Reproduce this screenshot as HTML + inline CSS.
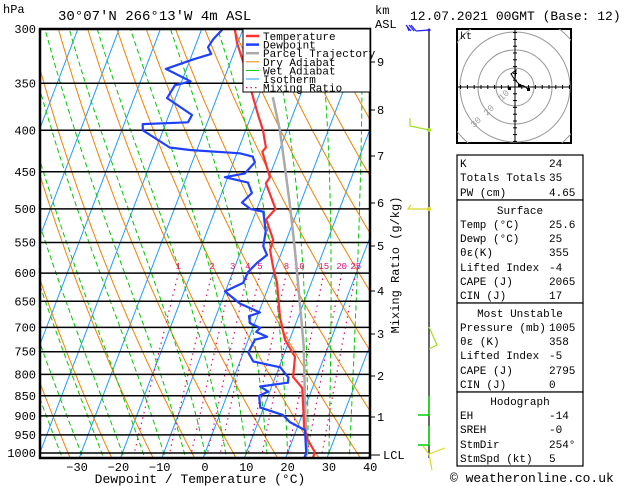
<!DOCTYPE html>
<html><head><meta charset="utf-8"><style>
body{margin:0;background:#fff;}
svg{display:block;font-family:"Liberation Mono","DejaVu Sans Mono",monospace;}
</style></head><body>
<svg id="chart" width="629" height="486" viewBox="0 0 629 486" xmlns="http://www.w3.org/2000/svg">
<defs><clipPath id="plotclip"><rect x="40" y="29" width="330" height="429"/></clipPath>
<clipPath id="hodoclip"><rect x="457" y="29" width="114" height="114"/></clipPath></defs>
<g id="bg" clip-path="url(#plotclip)"></g>
<g id="series" clip-path="url(#plotclip)"></g>
<g id="axes"></g>
<text x="3" y="13" font-size="12">hPa</text>
<text x="58" y="20" font-size="14">30°07'N  266°13'W  4m ASL</text>
<text x="375" y="14" font-size="12">km</text>
<text x="375" y="28" font-size="12">ASL</text>
<text x="410" y="20" font-size="13">12.07.2021 00GMT (Base: 12)</text>
<text x="200" y="483" font-size="13" text-anchor="middle">Dewpoint / Temperature (°C)</text>
<text transform="translate(399,265) rotate(-90)" font-size="12" text-anchor="middle">Mixing Ratio (g/kg)</text>
<g id="legend"></g>
<g id="wind"></g>
<g id="hodo"></g>
<g id="table"></g>
<text x="450" y="482" font-size="13">© weatheronline.co.uk</text>
</svg>
<script>
// ---- data ----
const pressureTicks=[300,350,400,450,500,550,600,650,700,750,800,850,900,950,1000];
const tempTicks=[-30,-20,-10,0,10,20,30,40];
const kmTicks=[9,8,7,6,5,4,3,2,1];
const kmTickY=[62,110,156,203,246,291,334,376,417];
const mixRatios=[1,2,3,4,5,8,10,15,20,25];
const tempP=[300,312,329,364,383,400,420,425,457,465,500,515,546,562,590,617,680,725,761,806,831,877,929,964,997,1013];
const tempT=[-32,-30.2,-27,-21.3,-18.4,-15.8,-13.5,-14,-9.8,-10.2,-5.5,-6.8,-3.2,-3,-0.7,1.7,5.6,8.9,12.9,14.3,17.5,19.5,21.6,23.7,26.5,26.6];
const dewP=[300,309,316,322,327,336,348,352,365,383,391,393,400,420,423,427,431,438,452,457,464,478,491,500,504,533,556,570,583,598,617,632,654,671,678,692,701,709,719,725,752,771,784,807,819,828,840,850,879,898,916,937,1000,1013];
const dewT=[-34.9,-36.3,-36.8,-35.4,-39.2,-45,-37.9,-41.3,-42,-34.4,-34.7,-45.5,-44.9,-36.8,-31.7,-19.3,-15.9,-14.8,-16.2,-20.7,-14.6,-12.7,-14.2,-11.6,-8.2,-5.8,-5,-3.3,-5,-6.3,-6.5,-10.1,-5.4,0.3,-2,-1.1,1.8,1.2,4.3,1.6,1.2,3.2,10.3,13.2,13.6,7.2,9.6,7.8,9.2,15.4,17.7,22.1,24.5,24.5];
const parcelP=[1013,1000,890,738,617,562,500,440,400,364];
const parcelT=[24.6,24.7,20.5,14,6.8,3,-1.9,-7.5,-11.7,-16.5];
// ---- axes ----
const NS="http://www.w3.org/2000/svg";
const Y0=29,H=424,LR=Math.log(1000/300);
function yP(p){return Y0+H*Math.log(p/300)/LR;}
function xTP(t,p){return 205+4.13*t+0.382*(453-yP(p));}
function mk(tag,attrs,parent){const e=document.createElementNS(NS,tag);for(const k in attrs)e.setAttribute(k,attrs[k]);parent.appendChild(e);return e;}
const bg=document.getElementById('bg'),ser=document.getElementById('series'),ax=document.getElementById('axes');
function polyPts(ps,fn){return ps.map(p=>{const t=fn(p);return xTP(t,p).toFixed(1)+','+yP(p).toFixed(1);}).join(' ');}
const pgrid=[];for(let p=250;p<=1050;p+=10)pgrid.push(p);
// isotherms
for(let t=-110;t<=40;t+=10){const l=mk('line',{x1:xTP(t,1050),y1:yP(1050),x2:xTP(t,250),y2:yP(250),stroke:'#1e9bff','stroke-width':1},bg);

}
// dry adiabats
for(let th=240;th<=480;th+=10){const l=mk('polyline',{points:polyPts(pgrid,p=>th*Math.pow(p/1000,0.286)-273.15),fill:'none',stroke:'#f08000','stroke-width':1},bg);

}
// wet adiabats (numerical)
function es(t){return 6.112*Math.exp(17.67*t/(t+243.5));}
function moistLapse(t,p){const T=t+273.15,e=es(t),r=0.622*e/(p-e),L=2.5e6;
return (0.286*T+ L*r/1004)/ (p*(1+ L*L*r*0.622/(1004*287*T*T)));}
for(let tw=-40;tw<=40;tw+=5){let t=tw,p=1050,pts=[];
// integrate from 1000 upward/downward
t=tw;let pp=1000;const up=[],dn=[];
let tt=t;for(let q=1000;q>=250;q-=5){up.push([q,tt]);tt-=moistLapse(tt,q)*5;}
tt=t;for(let q=1000;q<=1050;q+=5){dn.push([q,tt]);tt+=moistLapse(tt,q)*5;}
const all=dn.reverse().concat(up.slice(1));
const l=mk('polyline',{points:all.map(a=>xTP(a[1],a[0]).toFixed(1)+','+yP(a[0]).toFixed(1)).join(' '),fill:'none',stroke:'#00c800','stroke-width':1,'stroke-dasharray':'5,3'},bg);

}
// mixing ratio lines
function tdFromW(w,p){const e=w*p/(622+w),a=Math.log(e/6.112);return 243.5*a/(17.67-a);}
const mp=[];for(let p=600;p<=1000;p+=10)mp.push(p);
mixRatios.forEach(w=>{const l=mk('polyline',{points:polyPts(mp,p=>tdFromW(w,p)),fill:'none',stroke:'#e0107a','stroke-width':1.2,'stroke-dasharray':'1.5,4'},bg);


const tx=mk('text',{x:xTP(tdFromW(w,600),600),y:yP(600)-4,'font-size':9,fill:'#e0107a','text-anchor':'middle'},bg);tx.textContent=w;

});
// pressure lines and labels
pressureTicks.forEach(p=>{const y=yP(p);const l=mk('line',{x1:40,y1:y,x2:370,y2:y,stroke:'#000','stroke-width':1.5},bg);


const t=mk('text',{x:36,y:y+4,'font-size':12,'text-anchor':'end'},ax);t.textContent=p;

});
tempTicks.forEach(v=>{const x=xTP(v,1000);const t=mk('text',{x:x-(v<0?4:0),y:471,'font-size':12,'text-anchor':'middle'},ax);t.textContent=(v<0?'−':'')+Math.abs(v);

});
kmTicks.forEach((k,i)=>{mk('line',{x1:370,y1:kmTickY[i],x2:375,y2:kmTickY[i],stroke:'#000'},ax);const t=mk('text',{x:377,y:kmTickY[i]+4,'font-size':12},ax);t.textContent=k;

});
{mk('line',{x1:370,y1:455,x2:380,y2:455,stroke:'#000'},ax);const t=mk('text',{x:383,y:459,'font-size':12},ax);t.textContent='LCL';

}
const fr=mk('rect',{x:40,y:29,width:330,height:429,fill:'none',stroke:'#000','stroke-width':2.5},ax);


// series
function drawSeries(P,T,color,w,name){const l=mk('polyline',{points:P.map((p,i)=>xTP(T[i],p).toFixed(1)+','+yP(p).toFixed(1)).join(' '),fill:'none',stroke:color,'stroke-width':w,'stroke-linejoin':'round'},ser);

}
drawSeries(parcelP,parcelT,'#aaaaaa',2.5,'parcel-trajectory-line');
drawSeries(tempP,tempT,'#ff3030',2.2,'temperature-line');
drawSeries(dewP,dewT,'#2040ff',2.2,'dewpoint-line');
// legend
const lg=document.getElementById('legend');
mk('rect',{x:243,y:29,width:127,height:63,fill:'#fff',stroke:'#000','stroke-width':1},lg);
const legItems=[['Temperature','#ff3030',2.5,''],['Dewpoint','#2040ff',2.5,''],['Parcel Trajectory','#aaaaaa',2.5,''],['Dry Adiabat','#f08000',1,''],['Wet Adiabat','#00c800',1,''],['Isotherm','#1e9bff',1,''],['Mixing Ratio','#e0107a',1.2,'1.5,3']];
legItems.forEach((it,i)=>{const y=36+i*8.6;mk('line',{x1:246,y1:y,x2:259,y2:y,stroke:it[1],'stroke-width':it[2],'stroke-dasharray':it[3]||'none'},lg);
const t=mk('text',{x:263,y:y+4,'font-size':11},lg);t.textContent=it[0];

});
// wind profile
const wd=document.getElementById('wind');
mk('line',{x1:429,y1:29,x2:429,y2:458,stroke:'#000','stroke-width':1.2},wd);
mk('path',{d:'M429,30 L416,31 M416,31 L411,25 M414,31 L409,25 M411,31 L406,25 M409,31 L407,26',stroke:'#2020ff',fill:'none','stroke-width':1.2},wd);
mk('circle',{cx:429,cy:30,r:1.5,fill:'#2020ff'},wd);
mk('path',{d:'M429,130 L410,126 L410,118',stroke:'#a0e020',fill:'none','stroke-width':1.2},wd);
mk('circle',{cx:429,cy:130,r:2,fill:'#a0e020'},wd);
mk('path',{d:'M429,209 L408,209 L411,205',stroke:'#d8d820',fill:'none','stroke-width':1.2},wd);
mk('circle',{cx:429,cy:209,r:2,fill:'#d8d820'},wd);
mk('path',{d:'M429,327 L437,345 L429,349',stroke:'#a0e020',fill:'none','stroke-width':1.2},wd);
mk('path',{d:'M429,396 L429,415 L418,415 M429,426 L429,445 L418,445',stroke:'#00d000',fill:'none','stroke-width':1.5},wd);
mk('path',{d:'M429,454 L445,448 M429,454 L432,470 M429,454 L423,446',stroke:'#d8d820',fill:'none','stroke-width':1.2},wd);
// hodograph
const hd=document.getElementById('hodo');
mk('rect',{x:457,y:29,width:114,height:114,fill:'#fff',stroke:'#000','stroke-width':2},hd);
const hg=mk('g',{'clip-path':'url(#hodoclip)'},hd);
[19,37,55,73].forEach(r=>mk('circle',{cx:515,cy:87,r:r,fill:'none',stroke:'#999'},hg));
mk('line',{x1:458,y1:87,x2:570,y2:87,stroke:'#000'},hd);mk('line',{x1:515,y1:30,x2:515,y2:142,stroke:'#000'},hd);
for(let i=-8;i<=8;i++){if(!i)continue;mk('line',{x1:515+i*6.8,y1:85,x2:515+i*6.8,y2:89,stroke:'#000'},hd);mk('line',{x1:513,y1:87+i*6.8,x2:517,y2:87+i*6.8,stroke:'#000'},hd);}
[['10',502,101],['20',487,116],['30',474,128]].forEach(a=>{const t=mk('text',{x:a[1],y:a[2],'font-size':9,fill:'#999',transform:`rotate(-45 ${a[1]} ${a[2]})`},hd);t.textContent=a[0];});
mk('polyline',{points:'515,80 511,74 516,70 515,80 520,85 524,86 529,90',fill:'none',stroke:'#000','stroke-width':1},hd);
mk('rect',{x:508,y:87,width:3,height:3,fill:'#000'},hd);mk('rect',{x:518,y:84,width:3,height:3,fill:'#000'},hd);mk('rect',{x:527,y:88,width:3,height:3,fill:'#000'},hd);
{const t=mk('text',{x:460,y:39,'font-size':10},hd);t.textContent='kt';}
// table
const tb=document.getElementById('table');
[[155,45],[200,103],[303,89],[392,74]].forEach(b=>mk('rect',{x:457,y:b[0],width:126,height:b[1],fill:'#fff',stroke:'#000','stroke-width':1.2},tb));
const rows=[['K','24',167],['Totals Totals','35',181],['PW (cm)','4.65',196],['@Surface','',214],['Temp (°C)','25.6',228],['Dewp (°C)','25',242],['θε(K)','355',256],['Lifted Index','-4',271],['CAPE (J)','2065',285],['CIN (J)','17',299],['@Most Unstable','',317],['Pressure (mb)','1005',331],['θε (K)','358',345],['Lifted Index','-5',359],['CAPE (J)','2795',374],['CIN (J)','0',388],['@Hodograph','',405],['EH','-14',419],['SREH','-0',433],['StmDir','254°',448],['StmSpd (kt)','5',462]];
rows.forEach(r=>{let lab=r[0];const hdr=lab[0]==='@';if(hdr)lab=lab.slice(1);
const t=mk('text',{x:hdr?520:460,y:r[2],'font-size':11,'text-anchor':hdr?'middle':'start'},tb);t.textContent=lab;


if(r[1]){const v=mk('text',{x:549,y:r[2],'font-size':11},tb);v.textContent=r[1];

}});
</script>
</body></html>
